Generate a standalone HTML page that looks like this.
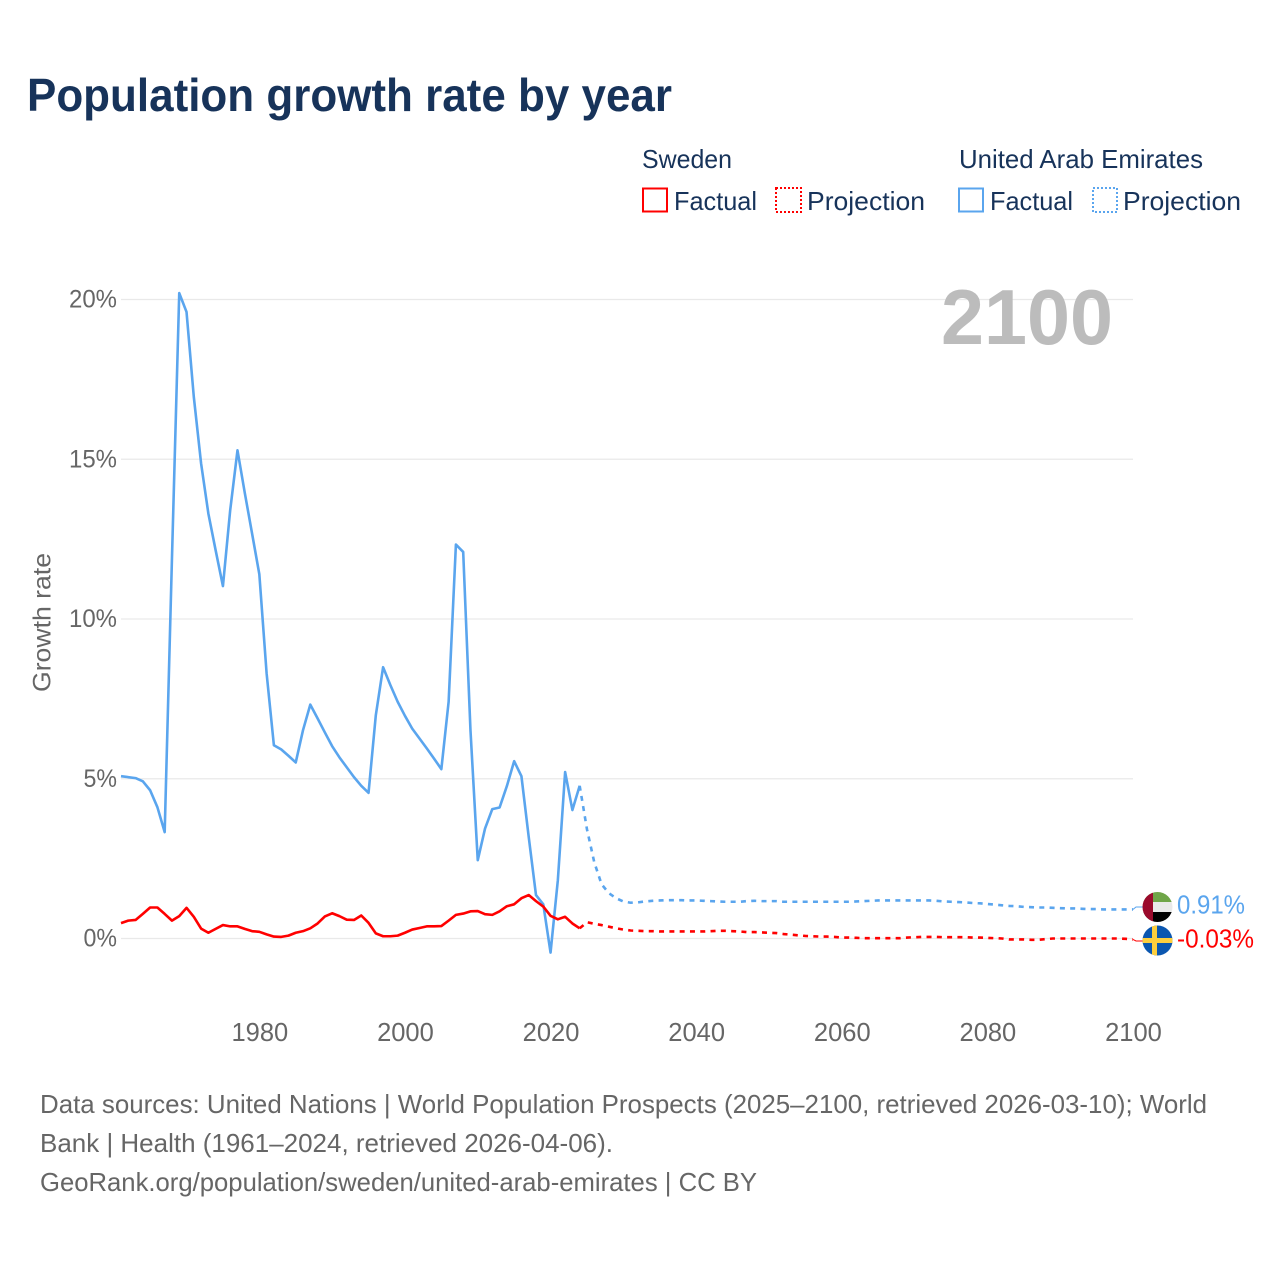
<!DOCTYPE html>
<html lang="en">
<head>
<meta charset="utf-8">
<title>Population growth rate by year</title>
<style>
html,body{margin:0;padding:0;background:#fff;}
svg{display:block;}
text{font-family:"Liberation Sans",sans-serif;}
</style>
</head>
<body>
<svg id="chart" xmlns="http://www.w3.org/2000/svg" width="1280" height="1280" viewBox="0 0 1280 1280">
  <defs>
    <clipPath id="clip-uae"><circle cx="1157.5" cy="907" r="15"/></clipPath>
    <clipPath id="clip-swe"><circle cx="1157.5" cy="940.5" r="15"/></clipPath>
  </defs>
  <rect x="0" y="0" width="1280" height="1280" fill="#fff"/>
  <text x="27" y="111" font-size="46" font-weight="700" fill="#17335a" textLength="645" lengthAdjust="spacingAndGlyphs">Population growth rate by year</text>

  <g font-size="26" fill="#17335a">
    <text x="642" y="168" textLength="90" lengthAdjust="spacingAndGlyphs">Sweden</text>
    <text x="959" y="168" textLength="244" lengthAdjust="spacingAndGlyphs">United Arab Emirates</text>
    <rect x="643" y="188.5" width="24" height="23" fill="none" stroke="#ff0000" stroke-width="2"/>
    <text x="674" y="210" textLength="83" lengthAdjust="spacingAndGlyphs">Factual</text>
    <rect x="776" y="188" width="25" height="24" fill="none" stroke="#ff0000" stroke-width="2" stroke-dasharray="2 2"/>
    <text x="807" y="210" textLength="118" lengthAdjust="spacingAndGlyphs">Projection</text>
    <rect x="959" y="188.5" width="24" height="23" fill="none" stroke="#5aa5ee" stroke-width="2"/>
    <text x="990" y="210" textLength="83" lengthAdjust="spacingAndGlyphs">Factual</text>
    <rect x="1093" y="188" width="24" height="24" fill="none" stroke="#5aa5ee" stroke-width="2" stroke-dasharray="2 2"/>
    <text x="1123" y="210" textLength="118" lengthAdjust="spacingAndGlyphs">Projection</text>
  </g>

  <g id="grid"></g>
  <text x="941" y="344" font-size="78" font-weight="700" fill="#bcbcbc" textLength="172" lengthAdjust="spacingAndGlyphs">2100</text>
  <text transform="translate(50.5,692) rotate(-90)" font-size="25" fill="#666" textLength="139" lengthAdjust="spacingAndGlyphs">Growth rate</text>
  <g id="yticks"></g>
  <g id="xticks"></g>
  <g id="series"></g>

  <g clip-path="url(#clip-uae)">
    <rect x="1142" y="892" width="32" height="10" fill="#6fa548"/>
    <rect x="1142" y="902" width="32" height="10" fill="#e9e9e9"/>
    <rect x="1142" y="912" width="32" height="10" fill="#000"/>
    <rect x="1142" y="892" width="11" height="30" fill="#9b0a2c"/>
  </g>
  <g clip-path="url(#clip-swe)">
    <rect x="1142" y="925" width="32" height="31" fill="#0b57b0"/>
    <rect x="1142" y="938" width="32" height="5" fill="#fdcf3e"/>
    <rect x="1152" y="925" width="5" height="31" fill="#fdcf3e"/>
  </g>
  <g id="endlabels"></g>

  <g font-size="26" fill="#666">
    <text x="40" y="1113" textLength="1167" lengthAdjust="spacingAndGlyphs">Data sources: United Nations | World Population Prospects (2025–2100, retrieved 2026-03-10); World</text>
    <text x="40" y="1152" textLength="573" lengthAdjust="spacingAndGlyphs">Bank | Health (1961–2024, retrieved 2026-04-06).</text>
    <text x="40" y="1191" textLength="717" lengthAdjust="spacingAndGlyphs">GeoRank.org/population/sweden/united-arab-emirates | CC BY</text>
  </g>
</svg>
<script>
const yTickValues = [0, 5, 10, 15, 20];
const yTickLabels = ["0%", "5%", "10%", "15%", "20%"];
const xTickYears = [1980, 2000, 2020, 2040, 2060, 2080, 2100];
const factualStartYear = 1961;
const projectionStartYear = 2025;
const swedenFactual = [
  0.48,0.56,0.58,0.77,0.97,0.97,0.77,0.56,0.70,0.96,
  0.68,0.31,0.18,0.30,0.42,0.38,0.38,0.30,0.23,0.21,
  0.13,0.06,0.05,0.09,0.18,0.23,0.32,0.47,0.69,0.79,
  0.70,0.59,0.58,0.72,0.49,0.16,0.07,0.07,0.09,0.18,
  0.28,0.33,0.38,0.38,0.39,0.56,0.74,0.78,0.85,0.86,
  0.76,0.74,0.85,1.01,1.07,1.26,1.36,1.17,1.00,0.71,
  0.60,0.68,0.47,0.32
];
const uaeFactual = [
  5.08,5.05,5.02,4.92,4.64,4.11,3.33,11.90,20.20,19.61,
  16.95,14.87,13.30,12.15,11.03,13.41,15.28,13.95,12.68,11.40,
  8.30,6.05,5.92,5.72,5.51,6.52,7.32,6.89,6.45,6.02,
  5.67,5.36,5.05,4.78,4.56,6.99,8.49,7.93,7.41,6.97,
  6.57,6.26,5.95,5.63,5.30,7.41,12.33,12.10,6.52,2.45,
  3.44,4.05,4.10,4.77,5.55,5.08,3.18,1.36,1.07,-0.44,
  1.82,5.21,4.02,4.78
];
const swedenProjection = [
  0.51,0.46,0.42,0.37,0.32,0.28,
  0.25,0.24,0.23,0.23,0.22,0.22,0.22,0.22,0.22,0.22,
  0.22,0.23,0.24,0.24,0.23,0.22,0.20,0.20,0.19,0.18,
  0.17,0.14,0.12,0.10,0.08,0.07,0.06,0.06,0.05,0.03,
  0.03,0.02,0.01,0.01,0.01,0.01,0.01,0.01,0.03,0.04,
  0.05,0.05,0.05,0.04,0.04,0.04,0.04,0.03,0.03,0.02,
  0.01,0.00,-0.03,-0.03,-0.03,-0.04,-0.04,-0.02,0.00,0.00,
  0.00,0.00,0.00,0.00,0.00,0.00,0.00,0.00,-0.01,-0.03
];
const uaeProjection = [
  3.42,2.39,1.70,1.42,1.26,1.16,
  1.12,1.13,1.16,1.18,1.19,1.20,1.20,1.20,1.19,1.19,
  1.18,1.17,1.16,1.15,1.15,1.15,1.17,1.18,1.17,1.17,
  1.17,1.15,1.15,1.15,1.15,1.15,1.15,1.15,1.15,1.15,
  1.15,1.16,1.17,1.18,1.19,1.19,1.19,1.19,1.19,1.19,
  1.19,1.19,1.18,1.16,1.15,1.14,1.13,1.11,1.10,1.08,
  1.06,1.04,1.02,1.01,0.99,0.98,0.97,0.97,0.96,0.95,
  0.94,0.94,0.93,0.92,0.92,0.91,0.91,0.91,0.91,0.91
];

const NS = "http://www.w3.org/2000/svg";
const BLUE = "#5aa5ee";
const RED = "#ff0000";
function xScale(year) { return 121 + (year - 1961) * (1012 / 139); }
function yScale(v) { return 938.5 - v * 31.95; }
function make(tag, attrs, parent) {
  const el = document.createElementNS(NS, tag);
  for (const k in attrs) el.setAttribute(k, attrs[k]);
  parent.appendChild(el);
  return el;
}
function pathFrom(values, startYear) {
  return values.map(function (v, i) {
    return (i ? "L" : "M") + xScale(startYear + i).toFixed(2) + " " + yScale(v).toFixed(2);
  }).join(" ");
}

const grid = document.getElementById("grid");
const yticks = document.getElementById("yticks");
const xticks = document.getElementById("xticks");
const series = document.getElementById("series");
const endlabels = document.getElementById("endlabels");

yTickValues.forEach(function (v, i) {
  const line = make("line", { x1: 121, x2: 1133, y1: yScale(v), y2: yScale(v), stroke: "#e9e9e9", "stroke-width": 1.2 }, grid);
  
  
  const label = yTickLabels[i];
  const w = (label.length - 1) * 14.5 + 19;
  const t = make("text", { x: 117 - w, y: yScale(v) + 8, "font-size": 25, fill: "#666", textLength: w, lengthAdjust: "spacingAndGlyphs" }, yticks);
  
  
  t.textContent = label;
});

xTickYears.forEach(function (year) {
  const t = make("text", { x: xScale(year) + 0.5, y: 1041, "font-size": 25.5, fill: "#666", "text-anchor": "middle" }, xticks);
  
  
  t.textContent = String(year);
});

function drawSeries(factual, projection, color, key, flagY, labelText, labelOffset, labelWidth) {
  const lastFactualYear = factualStartYear + factual.length - 1;
  const lastFactual = factual[factual.length - 1];
  const solid = make("path", { d: pathFrom(factual, factualStartYear), fill: "none", stroke: color, "stroke-width": 2.6, "stroke-linejoin": "round" }, series);
  
  
  const dashedValues = [lastFactual].concat(projection);
  const dashed = make("path", { d: pathFrom(dashedValues, lastFactualYear), fill: "none", stroke: color, "stroke-width": 2.6, "stroke-dasharray": "5 5.3" }, series);
  
  
  const endYear = projectionStartYear + projection.length - 1;
  const endValue = projection[projection.length - 1];
  const ex = xScale(endYear), ey = yScale(endValue);
  const conn = make("path", { d: "M" + ex + " " + ey + " L" + (ex + 3) + " " + flagY + " L1144 " + flagY, fill: "none", stroke: color, "stroke-width": 1 }, series);
  
  
  const label = make("text", { x: 1177, y: ey + labelOffset, "font-size": 25.5, fill: color, textLength: labelWidth, lengthAdjust: "spacingAndGlyphs" }, endlabels);
  
  
  label.textContent = labelText;
}
drawSeries(uaeFactual, uaeProjection, BLUE, "uae", 907, uaeProjection[uaeProjection.length - 1].toFixed(2) + "%", 4, 68);
drawSeries(swedenFactual, swedenProjection, RED, "sweden", 941, swedenProjection[swedenProjection.length - 1].toFixed(2) + "%", 8, 77);
</script>
</body>
</html>
